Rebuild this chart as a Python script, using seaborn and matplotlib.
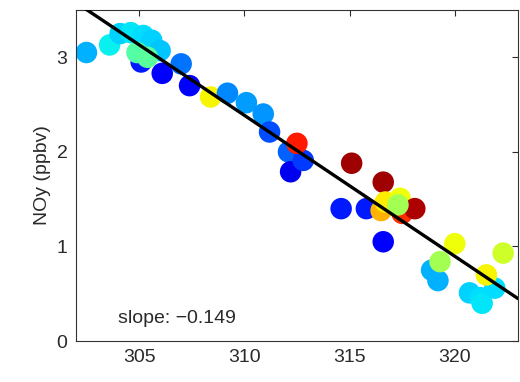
import numpy as np
import pandas as pd
import matplotlib
matplotlib.use("Agg")
import matplotlib.pyplot as plt
import seaborn as sns

# --- data ---
theta = [305.1, 302.5, 303.6, 304.1, 304.6, 305.2, 305.6, 306.0, 304.9, 305.4,
         306.1, 307.0, 307.4, 308.4, 309.2, 310.1, 310.9, 311.2, 312.1, 312.2,
         312.8, 312.5, 315.1, 316.6, 314.6, 315.8, 316.6, 316.5, 316.7, 317.4,
         317.5, 318.1, 317.3, 320.0, 318.9, 319.2, 319.3, 320.7, 321.2, 321.3,
         321.9, 321.5, 322.3]
noy = [2.95, 3.05, 3.13, 3.25, 3.26, 3.23, 3.18, 3.07, 3.05, 3.00,
       2.83, 2.93, 2.70, 2.58, 2.62, 2.52, 2.40, 2.21, 2.00, 1.79,
       1.91, 2.09, 1.88, 1.68, 1.40, 1.40, 1.05, 1.38, 1.47, 1.51,
       1.35, 1.40, 1.44, 1.03, 0.75, 0.64, 0.84, 0.51, 0.46, 0.40,
       0.56, 0.70, 0.93]
colour_val = [0.15, 0.30, 0.36, 0.33, 0.35, 0.34, 0.33, 0.32, 0.45, 0.46,
              0.12, 0.24, 0.12, 0.65, 0.26, 0.28, 0.27, 0.20, 0.22, 0.10,
              0.18, 0.88, 0.97, 0.97, 0.15, 0.15, 0.12, 0.72, 0.66, 0.64,
              0.86, 0.96, 0.55, 0.64, 0.30, 0.30, 0.55, 0.33, 0.34, 0.35,
              0.34, 0.65, 0.60]
slope = -0.149
anchor_x, anchor_y = 323.0, 0.45
line_x = [302.0, 323.0]
x_ticks = [305, 310, 315, 320]
y_ticks = [0, 1, 2, 3]

df = pd.DataFrame({"theta": theta, "noy": noy, "c": colour_val})
line_df = pd.DataFrame({"x": line_x})
line_df["y"] = anchor_y + slope * (line_df["x"] - anchor_x)

sns.set_style("white")
plt.rcParams["font.family"] = ["Liberation Sans", "DejaVu Sans"]

fig = plt.figure(figsize=(5.2, 3.82), dpi=100)
ax = fig.add_axes([0.146, 0.107, 0.850, 0.867])

sns.scatterplot(data=df, x="theta", y="noy", hue="c",
                palette=matplotlib.colormaps["jet"],
                hue_norm=(0, 1), s=240, edgecolor="none", linewidth=0,
                legend=False, ax=ax, zorder=2)
sns.lineplot(data=line_df, x="x", y="y", color="black", linewidth=2.4,
             ax=ax, zorder=3)

ax.set_xlim(302, 323)
ax.set_ylim(0, 3.5)
ax.set_xticks(x_ticks)
ax.set_yticks(y_ticks)
ax.set_xlabel("")
ax.set_ylabel("NOy (ppbv)", fontsize=14, color="#2a2a2a")
ax.tick_params(direction="in", length=4, width=0.8, top=True, right=True,
               labelsize=14, colors="#2a2a2a", pad=6)
for sp in ax.spines.values():
    sp.set_visible(True)
    sp.set_color("#333333")
    sp.set_linewidth(0.8)

ax.text(304.0, 0.19, "slope: \u22120.149", fontsize=14, color="#2a2a2a")

fig.savefig("out.png", dpi=100)
